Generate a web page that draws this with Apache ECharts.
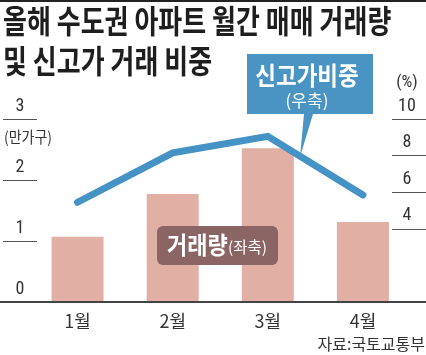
<!DOCTYPE html>
<html><head><meta charset="utf-8">
<script src="https://cdn.jsdelivr.net/npm/echarts@6/dist/echarts.min.js"></script>
<style>html,body{margin:0;padding:0;background:#fff}#c{width:426px;height:355px}</style>
</head><body><div id="c"></div>
<script>
// ---- data ----
const categories = ['1월', '2월', '3월', '4월'];
const tradeVolume = [1.07, 1.77, 2.52, 1.31];      // 거래량 (만가구), left axis
const newHighShare = [5.45, 8.15, 9.05, 5.85];     // 신고가 비중 (%), right axis
const leftLabelValues = [0, 1, 2, 3];
const leftTickValues = [1, 2, 3];
const rightLabelValues = [4, 6, 8, 10];

const KR = "'Noto Sans CJK KR', sans-serif";
const NUM = "'Liberation Sans Narrow', 'Roboto Condensed', 'Liberation Sans', 'Noto Sans CJK KR', sans-serif";

const chart = echarts.init(document.getElementById('c'), null, { renderer: 'canvas' });

const option = {
  backgroundColor: '#ffffff',
  animation: false,
  grid: { left: 30, right: 15.5, top: 119, bottom: 53 },
  xAxis: {
    type: 'category',
    data: categories,
    axisLine: { show: false },
    axisTick: { show: false },
    axisLabel: { color: '#333', fontSize: 18, fontFamily: KR, margin: 10 }
  },
  yAxis: [
    {
      type: 'value', min: 0, max: 3, interval: 1, position: 'left', offset: -7,
      splitLine: { show: false },
      axisLine: { show: false },
      axisTick: { show: true, length: 34, customValues: leftTickValues, lineStyle: { color: '#555', width: 1 } },
      axisLabel: {
        customValues: leftLabelValues, color: '#333', fontSize: 18, fontFamily: NUM,
        margin: 17, align: 'center', verticalAlign: 'bottom', padding: [0, 0, 4, 0]
      }
    },
    {
      type: 'value', min: 0, max: 10, interval: 2, position: 'right', offset: -18.5,
      splitLine: { show: false },
      axisLine: { show: false },
      axisTick: { show: true, length: 34, customValues: rightLabelValues, lineStyle: { color: '#555', width: 1 } },
      axisLabel: {
        customValues: rightLabelValues, color: '#333', fontSize: 18, fontFamily: NUM,
        margin: 15, align: 'center', verticalAlign: 'bottom', padding: [0, 0, 4, 0]
      }
    }
  ],
  series: [
    {
      type: 'bar', yAxisIndex: 0, data: tradeVolume, barWidth: 52,
      itemStyle: { color: '#e1afa3' }, z: 2
    },
    {
      type: 'line', yAxisIndex: 1, data: newHighShare, showSymbol: false,
      lineStyle: { color: '#4593c5', width: 7, cap: 'round', join: 'miter' }, z: 3
    }
  ]
};
chart.setOption(option);

const baseY = chart.convertToPixel({ yAxisIndex: 0 }, 0);

chart.setOption({
  graphic: [
    // top rule
    { type: 'rect', shape: { x: 0, y: 0, width: 426, height: 2 }, style: { fill: '#222' }, z: 10 },
    // title
    { type: 'text', x: 3, y: 5, scaleY: 1.22, style: { text: '올해 수도권 아파트 월간 매매 거래량', font: 'bold 26px ' + KR, fill: '#1e1e1e', textVerticalAlign: 'top' }, z: 10 },
    { type: 'text', x: 3, y: 45, scaleY: 1.22, style: { text: '및 신고가 거래 비중', font: 'bold 26px ' + KR, fill: '#1e1e1e', textVerticalAlign: 'top' }, z: 10 },
    // axis units
    { type: 'text', x: 28, y: 137, scaleY: 1.1, style: { text: '(만가구)', font: '14px ' + KR, fill: '#333', textAlign: 'center', textVerticalAlign: 'middle' }, z: 10 },
    { type: 'text', x: 407, y: 83, style: { text: '(%)', font: '17px ' + NUM, fill: '#333', textAlign: 'center', textVerticalAlign: 'middle' }, z: 10 },
    // baseline
    { type: 'line', shape: { x1: 0, y1: baseY, x2: 426, y2: baseY }, style: { stroke: '#444', lineWidth: 2 }, z: 10 },
    // callout for line
    { type: 'polygon', shape: { points: [[247, 54], [373, 54], [373, 114], [313, 114], [300, 157], [304, 114], [247, 114]] }, style: { fill: '#4a94c4' }, z: 11 },
    { type: 'text', x: 307, y: 75, scaleY: 1.12, style: { text: '신고가비중', font: 'bold 22.5px ' + KR, fill: '#fff', textAlign: 'center', textVerticalAlign: 'middle' }, z: 12 },
    { type: 'text', x: 307, y: 101, style: { text: '(우축)', font: '17px ' + KR, fill: '#fff', textAlign: 'center', textVerticalAlign: 'middle' }, z: 12 },
    // bar label box
    { type: 'rect', shape: { x: 157, y: 226, width: 121, height: 39, r: 6 }, style: { fill: '#8a6563' }, z: 11 },
    { type: 'text', x: 167, y: 245, scaleY: 1.1, style: { text: '거래량', font: 'bold 22px ' + KR, fill: '#fff', textAlign: 'left', textVerticalAlign: 'middle' }, z: 12 },
    { type: 'text', x: 228, y: 247, style: { text: '(좌축)', font: '15.5px ' + KR, fill: '#fff', textAlign: 'left', textVerticalAlign: 'middle' }, z: 12 },
    // source
    { type: 'text', x: 425, y: 344, style: { text: '자료:국토교통부', font: '16px ' + KR, fill: '#333', textAlign: 'right', textVerticalAlign: 'middle' }, z: 10 }
  ]
});
</script>
</body></html>
